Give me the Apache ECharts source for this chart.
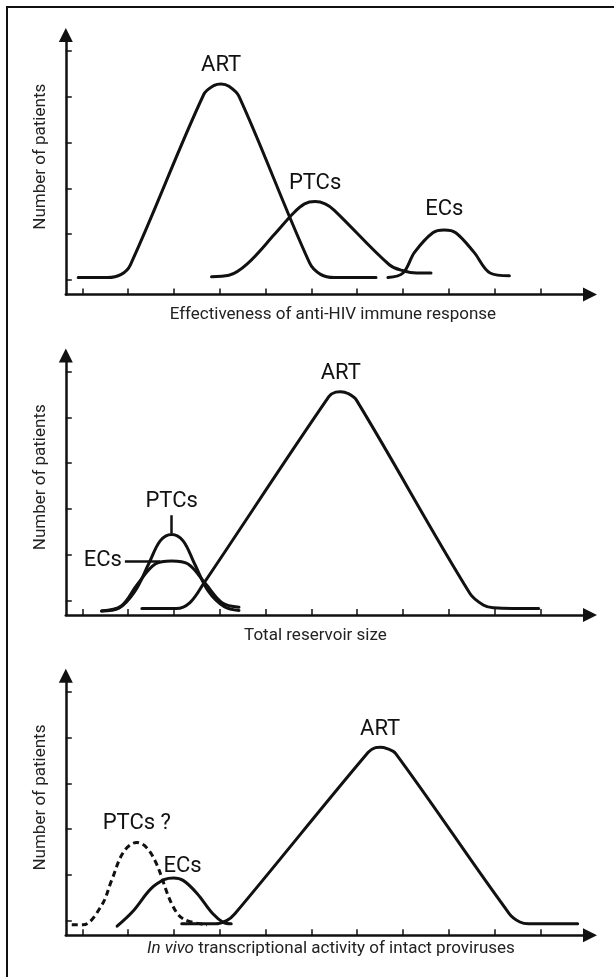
<!DOCTYPE html>
<html>
<head>
<meta charset="utf-8">
<script src="https://cdn.jsdelivr.net/npm/echarts@6/dist/echarts.min.js"></script>
<style>html,body{margin:0;padding:0;background:#fff}#c{width:614px;height:977px}</style>
</head>
<body>
<div id="c"></div>
<script>
// ---- tick values (abstract units) ----
const xTicks = [0,1,2,3,4,5,6,7,8,9,10];
const yTicks = [0,1,2,3,4,5];

// ---- Panel 1: Effectiveness of anti-HIV immune response ----
const p1ArtX = [-0.09, 0.55, 0.85, 1.05, 2.65, 2.88, 3.03, 3.2, 3.42, 4.96, 5.2, 5.5, 6.41];
const p1ArtY = [0.05, 0.05, 0.12, 0.33, 4.05, 4.25, 4.28, 4.23, 4.01, 0.37, 0.12, 0.05, 0.05];
const p1PtcX = [2.82, 3.2, 3.6, 4.2, 4.6, 4.85, 5.08, 5.3, 5.5, 6.7, 7.0, 7.3, 7.61];
const p1PtcY = [0.07, 0.1, 0.35, 1.0, 1.45, 1.66, 1.71, 1.66, 1.52, 0.33, 0.2, 0.15, 0.15];
const p1EcX = [6.67, 7.0, 7.25, 7.65, 7.9, 8.15, 8.55, 8.9, 9.32];
const p1EcY = [0.05, 0.15, 0.6, 1.03, 1.09, 1.03, 0.6, 0.15, 0.09];

// ---- Panel 2: Total reservoir size ----
const p2ArtX = [1.3, 2.05, 2.35, 2.65, 5.38, 5.53, 5.64, 5.8, 5.98, 8.46, 8.75, 8.97, 9.96];
const p2ArtY = [-0.18, -0.18, -0.05, 0.37, 4.45, 4.55, 4.56, 4.52, 4.38, 0.15, -0.1, -0.16, -0.18];
const p2PtcX = [0.42, 0.8, 1.15, 1.45, 1.7, 1.95, 2.2, 2.45, 2.75, 3.1, 3.42];
const p2PtcY = [-0.23, -0.17, 0.2, 0.8, 1.3, 1.44, 1.3, 0.8, 0.2, -0.14, -0.22];
const p2EcX = [0.42, 0.85, 1.2, 1.6, 1.95, 2.3, 2.7, 3.05, 3.42];
const p2EcY = [-0.23, -0.12, 0.35, 0.8, 0.86, 0.8, 0.35, -0.05, -0.15];

// ---- Panel 3: In vivo transcriptional activity of intact proviruses ----
const p3ArtX = [2.17, 2.9, 3.15, 3.33, 6.24, 6.4, 6.5, 6.65, 6.84, 9.32, 9.55, 9.74, 10.81];
const p3ArtY = [-0.07, -0.07, 0.0, 0.15, 3.68, 3.78, 3.79, 3.76, 3.65, 0.15, -0.03, -0.07, -0.07];
const p3EcX = [0.76, 1.1, 1.5, 1.8, 1.99, 2.2, 2.5, 2.85, 3.08, 3.25];
const p3EcY = [-0.12, 0.2, 0.7, 0.9, 0.93, 0.88, 0.6, 0.15, -0.04, -0.07];
const p3PtcX = [-0.23, 0.02, 0.42, 0.64, 0.9, 1.19, 1.4, 1.62, 1.95, 2.2, 2.72];
const p3PtcY = [-0.09, -0.09, 0.33, 0.88, 1.5, 1.71, 1.6, 1.24, 0.37, 0.04, -0.09];

const xNames = ['Effectiveness of anti-HIV immune response', 'Total reservoir size', '{i|In vivo} transcriptional activity of intact proviruses'];
const yName = 'Number of patients';

const INK = '#111';
const FONT = 'Roboto';
const LBL = 22;
const AX = 17;
const pairs = (xs, ys) => xs.map((x, i) => [x, ys[i]]);

const gridTops = [35, 355.5, 675.8];
const xPad = [[0,0,0,10],[0,25,0,0],[0,0,0,6]];
const xGap = [12, 12, 5];

const grids = [], xAxes = [], yAxes = [];
gridTops.forEach((t, i) => {
  grids.push({left: 65.8, top: t, width: 524.2, height: 259.5});
  xAxes.push({
    type: 'value', gridIndex: i, min: -0.36, max: 11.08,
    axisLine: {show: true, onZero: false, symbol: ['none', 'triangle'], symbolSize: [14, 14], lineStyle: {color: INK, width: 2.5}},
    axisTick: {show: true, inside: true, length: 6, customValues: xTicks, lineStyle: {color: INK, width: 1.5}},
    axisLabel: {show: false}, splitLine: {show: false},
    name: xNames[i], nameLocation: 'middle', nameGap: xGap[i],
    nameTextStyle: {fontFamily: FONT, fontSize: AX, color: '#222', padding: xPad[i], verticalAlign: 'top',
      rich: {i: {fontStyle: 'italic', fontFamily: FONT, fontSize: AX, color: '#222'}}}
  });
  yAxes.push({
    type: 'value', gridIndex: i, min: -0.32, max: 5.35,
    axisLine: {show: true, onZero: false, symbol: ['none', 'triangle'], symbolSize: [14, 14], lineStyle: {color: INK, width: 2.5}},
    axisTick: {show: true, inside: true, length: 6, customValues: yTicks, lineStyle: {color: INK, width: 1.5}},
    axisLabel: {show: false}, splitLine: {show: false},
    name: yName, nameLocation: 'middle', nameGap: 17,
    nameTextStyle: {fontFamily: FONT, fontSize: AX, color: '#222', padding: [0,0,0,16]}
  });
});

function peakLabel(text, dist, off) {
  return {
    symbol: 'circle', symbolSize: 0, silent: true,
    data: [{type: 'max', valueDim: 'y'}],
    label: {show: true, position: 'top', distance: dist, offset: off || [0, 0], formatter: text, color: INK, fontFamily: FONT, fontSize: LBL},
    itemStyle: {color: 'rgba(0,0,0,0)'}
  };
}
function curve(idx, xs, ys, extra) {
  return Object.assign({
    type: 'line', xAxisIndex: idx, yAxisIndex: idx, data: pairs(xs, ys),
    smooth: 0.35, showSymbol: false, symbol: 'none', silent: true,
    lineStyle: {color: INK, width: 3, cap: 'round'}
  }, extra || {});
}
const peakOf = (xs, ys) => { let k = 0; ys.forEach((v, i) => { if (v > ys[k]) k = i; }); return [xs[k], ys[k]]; };

const p2PtcPeak = peakOf(p2PtcX, p2PtcY);
const p2EcPeak = peakOf(p2EcX, p2EcY);

const series = [
  curve(0, p1ArtX, p1ArtY, {markPoint: peakLabel('ART', 7)}),
  curve(0, p1PtcX, p1PtcY, {markPoint: peakLabel('PTCs', 7)}),
  curve(0, p1EcX, p1EcY, {markPoint: peakLabel('ECs', 9)}),
  curve(1, p2ArtX, p2ArtY, {markPoint: peakLabel('ART', 7)}),
  curve(1, p2PtcX, p2PtcY, {markLine: {
    silent: true, symbol: ['none', 'none'],
    lineStyle: {color: INK, width: 2.5, type: 'solid'},
    label: {show: true, position: 'end', formatter: 'PTCs', color: INK, fontFamily: FONT, fontSize: LBL, distance: 3},
    data: [[{coord: [p2PtcPeak[0], p2PtcPeak[1] + 0.03]}, {coord: [p2PtcPeak[0], p2PtcPeak[1] + 0.42]}]]
  }}),
  curve(1, p2EcX, p2EcY, {markLine: {
    silent: true, symbol: ['none', 'none'],
    lineStyle: {color: INK, width: 2.5, type: 'solid'},
    label: {show: true, position: 'start', formatter: 'ECs', color: INK, fontFamily: FONT, fontSize: LBL, distance: 3},
    data: [[{coord: [p2EcPeak[0] - 1.02, p2EcPeak[1]]}, {coord: [p2EcPeak[0] - 0.25, p2EcPeak[1]]}]]
  }}),
  curve(2, p3ArtX, p3ArtY, {markPoint: peakLabel('ART', 7)}),
  curve(2, p3EcX, p3EcY, {markPoint: peakLabel('ECs', 1, [9, 0])}),
  curve(2, p3PtcX, p3PtcY, {lineStyle: {color: INK, width: 3, type: [6, 4]}, markPoint: peakLabel('PTCs ?', 8)})
];

const chart = echarts.init(document.getElementById('c'), null, {renderer: 'canvas'});
chart.setOption({
  backgroundColor: '#fff',
  animation: false,
  grid: grids, xAxis: xAxes, yAxis: yAxes, series: series,
  graphic: [{type: 'rect', shape: {x: 7, y: 7, width: 700, height: 1100}, style: {fill: 'none', stroke: INK, lineWidth: 2}, silent: true}]
});
</script>
</body>
</html>
